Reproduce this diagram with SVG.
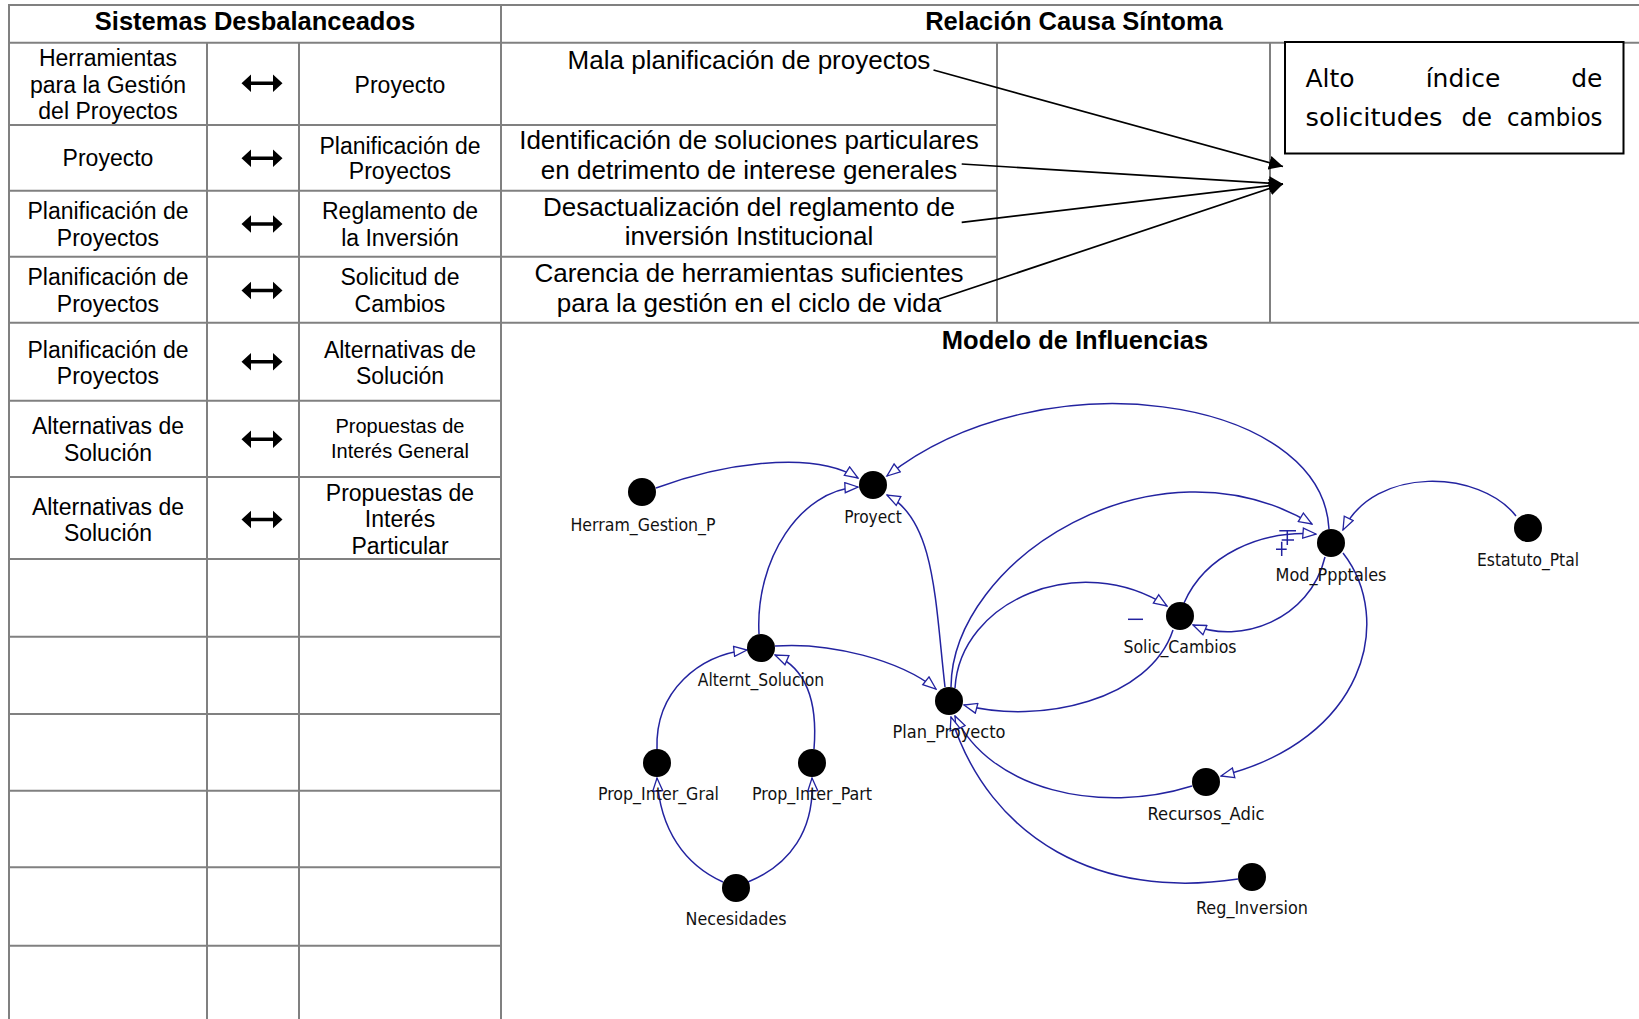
<svg xmlns="http://www.w3.org/2000/svg" width="1639" height="1019" viewBox="0 0 1639 1019">
  <style>
    .grid { stroke: #808080; stroke-width: 2; fill: none; }
    .hdr { font-family: "Liberation Sans", Arial, sans-serif; font-weight: bold; font-size: 25.5px; fill: #000; text-anchor: middle; }
    .cell { font-family: "Liberation Sans", Arial, sans-serif; font-size: 23px; fill: #000; text-anchor: middle; }
    .cell-s { font-family: "Liberation Sans", Arial, sans-serif; font-size: 20px; fill: #000; text-anchor: middle; }
    .cause { font-family: "Liberation Sans", Arial, sans-serif; font-size: 26px; fill: #000; text-anchor: middle; }
    .sym { font-family: "DejaVu Sans", sans-serif; font-size: 25px; fill: #000; }
    .cause-link { stroke: #000; stroke-width: 1.7; fill: none; marker-end: url(#solid-head); }
    .link { stroke: #2323a0; stroke-width: 1.5; fill: none; marker-end: url(#open-head); }
    .sign { stroke: #2323a0; stroke-width: 1.5; fill: none; }
    .dot { fill: #000; }
    .lbl { font-family: "DejaVu Sans Condensed", "DejaVu Sans", sans-serif; font-size: 17px; fill: #111; text-anchor: middle; }
  </style>
  <defs>
    <marker id="solid-head" markerUnits="userSpaceOnUse" viewBox="0 0 14 14" markerWidth="14" markerHeight="14" refX="14" refY="7" orient="auto">
      <path d="M0,0 L14,7 L0,14 Z" fill="#000"/>
    </marker>
    <marker id="open-head" markerUnits="userSpaceOnUse" viewBox="0 0 16 12" markerWidth="16" markerHeight="12" refX="14.5" refY="6" orient="auto">
      <path d="M1.5,1 L14.5,6 L1.5,11 Z" fill="#fff" stroke="#2323a0" stroke-width="1.3" stroke-linejoin="miter"/>
    </marker>
    <path id="both-way" d="M-20.5,0 L-11,-8.8 L-11,-1.8 L11,-1.8 L11,-8.8 L20.5,0 L11,8.8 L11,1.8 L-11,1.8 L-11,8.8 Z" fill="#000"/>
  </defs>

  <rect x="0" y="0" width="1639" height="1019" fill="#fff"/>

  <!-- table grid -->
  <g id="table-grid" class="grid">
    <line x1="9" y1="5" x2="1639" y2="5"/>
    <line x1="9" y1="42.7" x2="1639" y2="42.7"/>
    <line x1="9" y1="4" x2="9" y2="1019"/>
    <line x1="501" y1="4" x2="501" y2="1019"/>
    <line x1="207" y1="42.7" x2="207" y2="1019"/>
    <line x1="299" y1="42.7" x2="299" y2="1019"/>
    <line x1="9" y1="125" x2="997" y2="125"/>
    <line x1="9" y1="190.7" x2="997" y2="190.7"/>
    <line x1="9" y1="256.7" x2="997" y2="256.7"/>
    <line x1="9" y1="322.7" x2="1639" y2="322.7"/>
    <line x1="9" y1="400.7" x2="501" y2="400.7"/>
    <line x1="9" y1="477" x2="501" y2="477"/>
    <line x1="9" y1="559" x2="501" y2="559"/>
    <line x1="9" y1="636.7" x2="501" y2="636.7"/>
    <line x1="9" y1="714" x2="501" y2="714"/>
    <line x1="9" y1="790.7" x2="501" y2="790.7"/>
    <line x1="9" y1="867.3" x2="501" y2="867.3"/>
    <line x1="9" y1="945.7" x2="501" y2="945.7"/>
    <line x1="997" y1="42.7" x2="997" y2="322.7"/>
    <line x1="1270" y1="42.7" x2="1270" y2="322.7"/>
  </g>

  <!-- section headers -->
  <g id="headers">
    <text class="hdr" x="255" y="30.3">Sistemas Desbalanceados</text>
    <text class="hdr" x="1074" y="30">Relación Causa Síntoma</text>
    <text class="hdr" x="1075" y="348.5">Modelo de Influencias</text>
  </g>

  <!-- unbalanced system pairs -->
  <g id="pairs">
    <g id="pair-1">
      <text class="cell" x="108" y="66">Herramientas</text>
      <text class="cell" x="108" y="92.7">para la Gestión</text>
      <text class="cell" x="108" y="119.3">del Proyectos</text>
      <use href="#both-way" x="262" y="83.3"/>
      <text class="cell" x="400" y="92.5">Proyecto</text>
    </g>
    <g id="pair-2">
      <text class="cell" x="108" y="166">Proyecto</text>
      <use href="#both-way" x="262" y="158.3"/>
      <text class="cell" x="400" y="153.7">Planificación de</text>
      <text class="cell" x="400" y="179.3">Proyectos</text>
    </g>
    <g id="pair-3">
      <text class="cell" x="108" y="219.3">Planificación de</text>
      <text class="cell" x="108" y="246">Proyectos</text>
      <use href="#both-way" x="262" y="224"/>
      <text class="cell" x="400" y="219.3">Reglamento de</text>
      <text class="cell" x="400" y="246">la Inversión</text>
    </g>
    <g id="pair-4">
      <text class="cell" x="108" y="285.3">Planificación de</text>
      <text class="cell" x="108" y="311.7">Proyectos</text>
      <use href="#both-way" x="262" y="290.5"/>
      <text class="cell" x="400" y="285.3">Solicitud de</text>
      <text class="cell" x="400" y="311.7">Cambios</text>
    </g>
    <g id="pair-5">
      <text class="cell" x="108" y="357.7">Planificación de</text>
      <text class="cell" x="108" y="384.3">Proyectos</text>
      <use href="#both-way" x="262" y="361.7"/>
      <text class="cell" x="400" y="357.7">Alternativas de</text>
      <text class="cell" x="400" y="384.3">Solución</text>
    </g>
    <g id="pair-6">
      <text class="cell" x="108" y="434.3">Alternativas de</text>
      <text class="cell" x="108" y="461">Solución</text>
      <use href="#both-way" x="262" y="439.3"/>
      <text class="cell-s" x="400" y="433">Propuestas de</text>
      <text class="cell-s" x="400" y="457.5">Interés General</text>
    </g>
    <g id="pair-7">
      <text class="cell" x="108" y="515.3">Alternativas de</text>
      <text class="cell" x="108" y="541">Solución</text>
      <use href="#both-way" x="262" y="519.5"/>
      <text class="cell" x="400" y="500.5">Propuestas de</text>
      <text class="cell" x="400" y="527">Interés</text>
      <text class="cell" x="400" y="553.5">Particular</text>
    </g>
  </g>

  <!-- causes -->
  <g id="causes">
    <g id="cause-1"><text class="cause" x="749" y="68.5">Mala planificación de proyectos</text></g>
    <g id="cause-2">
      <text class="cause" x="749" y="148.8">Identificación de soluciones particulares</text>
      <text class="cause" x="749" y="178.5">en detrimento de interese generales</text>
    </g>
    <g id="cause-3">
      <text class="cause" x="749" y="215.5">Desactualización del reglamento de</text>
      <text class="cause" x="749" y="245">inversión Institucional</text>
    </g>
    <g id="cause-4">
      <text class="cause" x="749" y="282">Carencia de herramientas suficientes</text>
      <text class="cause" x="749" y="312">para la gestión en el ciclo de vida</text>
    </g>
  </g>

  <!-- symptom (justified two-line text) -->
  <g id="symptom">
    <rect x="1285" y="42" width="338.5" height="111.5" fill="#fff" stroke="#000" stroke-width="2"/>
    <text class="sym" x="1305.5" y="87">Alto</text>
    <text class="sym" x="1463" y="87" text-anchor="middle">índice</text>
    <text class="sym" x="1602.5" y="87" text-anchor="end">de</text>
    <text class="sym" x="1305.5" y="126" textLength="137" lengthAdjust="spacingAndGlyphs">solicitudes</text>
    <text class="sym" x="1461.5" y="126" textLength="30.5" lengthAdjust="spacingAndGlyphs">de</text>
    <text class="sym" x="1507" y="126" textLength="95.5" lengthAdjust="spacingAndGlyphs">cambios</text>
  </g>

  <!-- cause to symptom links -->
  <g id="cause-links">
    <path class="cause-link" d="M933.5,70 L1283,166.5"/>
    <path class="cause-link" d="M961.7,164 L1283,184"/>
    <path class="cause-link" d="M961.7,222.3 L1283,184"/>
    <path class="cause-link" d="M939,299 L1283,184"/>
  </g>

  <!-- influence model connectors -->
  <g id="connectors">
    <path class="link" d="M656,488 C715,466 810,448 858,478"/>
    <path class="link" d="M759,634 C755,560 800,490 858,487"/>
    <path class="link" d="M945,687 C935,600 935,520 887,495"/>
    <path class="link" d="M1329,529 C1322,395 1040,355 887,476"/>
    <path class="link" d="M1516,516 C1480,470 1375,465 1343,530"/>
    <path class="link" d="M951,687 C952,560 1155,430 1312,524"/>
    <path class="link" d="M1184,603 C1205,555 1260,530 1316,534"/>
    <path class="link" d="M1325,557 C1310,620 1240,645 1193,625"/>
    <path class="link" d="M955,688 C960,600 1080,550 1167,606"/>
    <path class="link" d="M1173,630 C1150,700 1040,725 964,705"/>
    <path class="link" d="M775,646 C830,642 900,660 936,689"/>
    <path class="link" d="M1343,553 C1395,620 1365,740 1221,776"/>
    <path class="link" d="M1192,786 C1100,815 990,790 955,716"/>
    <path class="link" d="M1238,879 C1100,900 990,840 951,717"/>
    <path class="link" d="M657,749 C655,690 700,655 747,650"/>
    <path class="link" d="M814,749 C818,700 805,668 775,655"/>
    <path class="link" d="M723,882 C685,865 660,830 657,778"/>
    <path class="link" d="M748,882 C790,865 815,830 812,778"/>
    <!-- polarity marks -->
    <path class="sign" d="M1128,619.3 H1143"/>
    <path class="sign" d="M1279.3,530.7 H1296 M1287.3,530.7 V545 M1281.7,540 H1294 M1276,549.3 H1286.7 M1281.7,541.7 V556"/>
  </g>

  <!-- influence model nodes -->
  <g id="node-herram"><circle class="dot" cx="642" cy="492" r="14"/><text class="lbl" x="643" y="531" textLength="145" lengthAdjust="spacingAndGlyphs">Herram_Gestion_P</text></g>
  <g id="node-proyect"><circle class="dot" cx="873" cy="485" r="14"/><text class="lbl" x="873" y="522.5" textLength="57.5" lengthAdjust="spacingAndGlyphs">Proyect</text></g>
  <g id="node-mod"><circle class="dot" cx="1331" cy="543" r="14"/><text class="lbl" x="1331" y="581" textLength="111" lengthAdjust="spacingAndGlyphs">Mod_Ppptales</text></g>
  <g id="node-estatuto"><circle class="dot" cx="1528" cy="528" r="14"/><text class="lbl" x="1528" y="565.5" textLength="102" lengthAdjust="spacingAndGlyphs">Estatuto_Ptal</text></g>
  <g id="node-solic"><circle class="dot" cx="1180" cy="616" r="14"/><text class="lbl" x="1180" y="653" textLength="113" lengthAdjust="spacingAndGlyphs">Solic_Cambios</text></g>
  <g id="node-alternt"><circle class="dot" cx="761" cy="648" r="14"/><text class="lbl" x="761" y="685.5" textLength="126.5" lengthAdjust="spacingAndGlyphs">Alternt_Solucion</text></g>
  <g id="node-plan"><circle class="dot" cx="949" cy="701" r="14"/><text class="lbl" x="949" y="738" textLength="113" lengthAdjust="spacingAndGlyphs">Plan_Proyecto</text></g>
  <g id="node-gral"><circle class="dot" cx="657" cy="763" r="14"/><text class="lbl" x="658.5" y="799.5" textLength="121" lengthAdjust="spacingAndGlyphs">Prop_Inter_Gral</text></g>
  <g id="node-part"><circle class="dot" cx="812" cy="763" r="14"/><text class="lbl" x="812" y="799.5" textLength="120" lengthAdjust="spacingAndGlyphs">Prop_Inter_Part</text></g>
  <g id="node-recursos"><circle class="dot" cx="1206" cy="782" r="14"/><text class="lbl" x="1206" y="819.5" textLength="117" lengthAdjust="spacingAndGlyphs">Recursos_Adic</text></g>
  <g id="node-necesidades"><circle class="dot" cx="736" cy="888" r="14"/><text class="lbl" x="736" y="925" textLength="101" lengthAdjust="spacingAndGlyphs">Necesidades</text></g>
  <g id="node-reg"><circle class="dot" cx="1252" cy="877" r="14"/><text class="lbl" x="1252" y="913.5" textLength="112" lengthAdjust="spacingAndGlyphs">Reg_Inversion</text></g>
</svg>
